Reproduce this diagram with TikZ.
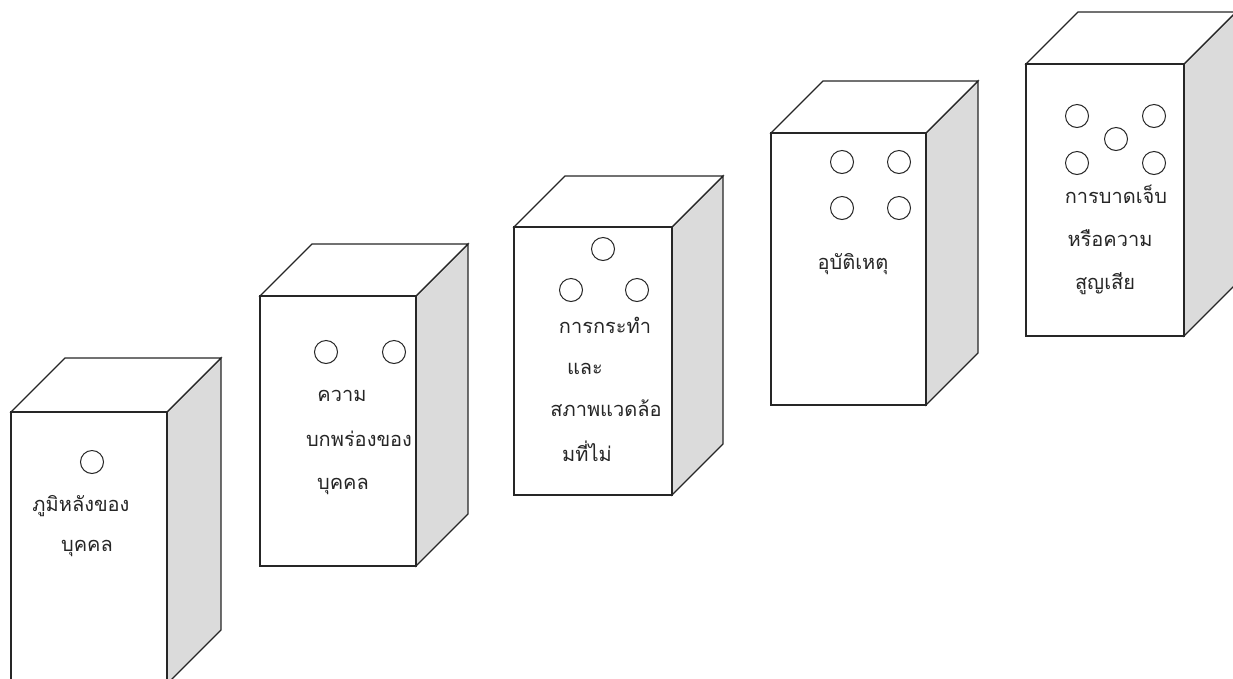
\documentclass[tikz,border=0pt]{standalone}
\usepackage{fontspec}
\newfontfamily\thaifont[Script=Thai]{Loma}
\tikzset{
  edge/.style={draw=black!85, line width=1.2pt, line join=miter},
  sidefill/.style={edge, fill=black!14},
  facefill/.style={edge, fill=white},
  dot/.style={draw=black!85, line width=1pt},
  lbl/.style={font=\thaifont\fontsize{20}{24}\selectfont, text=black!85, anchor=base, inner sep=0pt},
}
% #1 left, #2 top, #3 right, #4 bottom, #5 depth (pixel coordinates, y down)
\newcommand\cubebox[5]{%
  \path[sidefill] (#3,#2) -- (#3+#5,#2-#5) -- (#3+#5,#4-#5) -- (#3,#4) -- cycle;
  \path[facefill] (#1,#2) -- (#1+#5,#2-#5) -- (#3+#5,#2-#5) -- (#3,#2) -- cycle;
  \path[facefill] (#1,#2) rectangle (#3,#4);
}
\newcommand\ring[2]{\draw[dot] (#1,#2) circle[radius=11.5];}
\begin{document}
\begin{tikzpicture}[x=1pt,y=-1pt]
\useasboundingbox (0,0) rectangle (1233,678);
\clip (0,0) rectangle (1233,678);
% box 1
\cubebox{11}{412}{167}{684}{54}
\ring{92}{462}
\node[lbl] (t1a) at (81,511) {ภูมิหลังของ};
\node[lbl] (t1b) at (87,551) {บุคคล};
% box 2
\cubebox{260}{296}{416}{566}{52}
\ring{326}{352}\ring{394}{352}
\node[lbl] (t2a) at (342,401) {ความ};
\node[lbl] (t2b) at (359,446) {บกพร่องของ};
\node[lbl] (t2c) at (343,489) {บุคคล};
% box 3
\cubebox{514}{227}{672}{495}{51}
\ring{603}{249}\ring{571}{290}\ring{637}{290}
\node[lbl] (t3a) at (605,333) {การกระทำ};
\node[lbl] (t3b) at (585,374) {และ};
\node[lbl] (t3c) at (606,416) {สภาพแวดล้อ};
\node[lbl] (t3d) at (587,461) {มที่ไม่};
% box 4
\cubebox{771}{133}{926}{405}{52}
\ring{842}{162}\ring{899}{162}\ring{842}{208}\ring{899}{208}
\node[lbl] (t4a) at (853,269) {อุบัติเหตุ};
% box 5
\cubebox{1026}{64}{1184}{336}{52}
\ring{1077}{116}\ring{1154}{116}\ring{1116}{139}\ring{1077}{163}\ring{1154}{163}
\node[lbl] (t5a) at (1116,203) {การบาดเจ็บ};
\node[lbl] (t5b) at (1110,246) {หรือความ};
\node[lbl] (t5c) at (1105,289) {สูญเสีย};
\end{tikzpicture}
\end{document}
